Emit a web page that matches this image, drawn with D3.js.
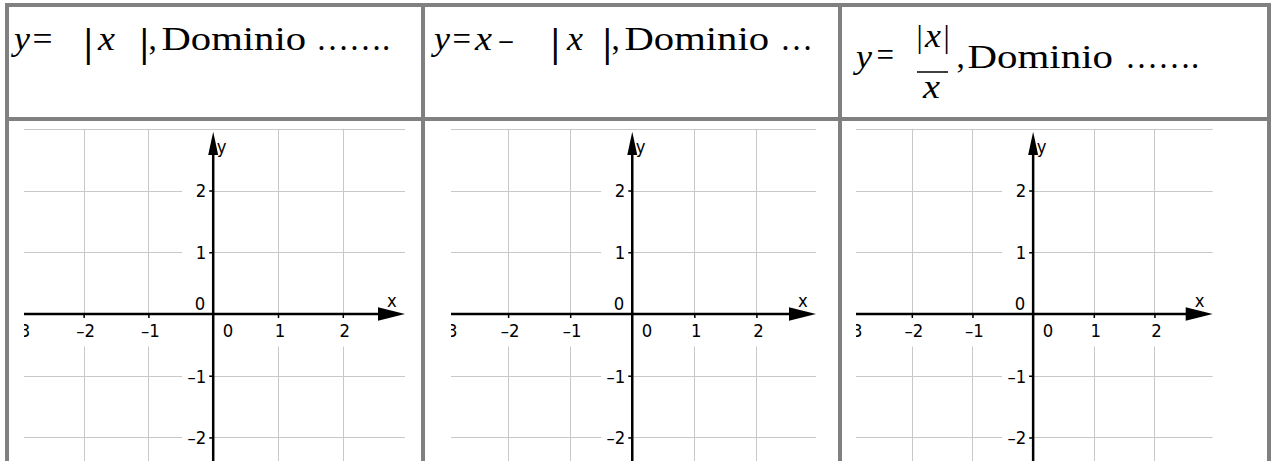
<!DOCTYPE html>
<html><head><meta charset="utf-8">
<script src="https://cdn.jsdelivr.net/npm/d3@7"></script>
<style>html,body{margin:0;padding:0;background:#fff;overflow:hidden}</style>
</head><body>
<svg id="c" width="1271" height="461"></svg>
<script>
// ---------- data ----------
const xTicks = [-3, -2, -1, 0, 1, 2];
const yTicks = [-2, -1, 0, 1, 2];
const xGrid = [-2, -1, 1, 2];
const yGrid = [3, 2, 1, -1, -2];
const xDomain = [-2.92, 2.96];
const yDomain = [3, -2.5];
const axisNames = ["x", "y"];
const domainWord = "Dominio";
const dotTexts = ["\u2026\u2026.", "\u2026", "\u2026\u2026."];

// ---------- layout / style ----------
const W = 1271, H = 461;
const borderColor = "#808080";
const gridColor = "#c8c8c8";
const serif = "Liberation Serif";
const sans = "DejaVu Sans";
const labelSize = 16.5;
const panels = [{x0: 24, x1: 405}, {x0: 451, x1: 816}, {x0: 856, x1: 1212.7}];
const yRange = [128.8, 468.3];

const svg = d3.select("#c");
const defs = svg.append("defs");
svg.append("rect").attr("width", W).attr("height", H).attr("fill", "#fff");

const fmt = d => d < 0 ? "\u2013" + Math.abs(d) : String(d);

panels.forEach((p, i) => {
  const x = d3.scaleLinear().domain(xDomain).range([p.x0, p.x1]);
  const y = d3.scaleLinear().domain(yDomain).range(yRange);
  defs.append("clipPath").attr("id", "clip" + i).append("rect")
    .attr("x", p.x0).attr("y", 122).attr("width", p.x1 - p.x0 + 0.5).attr("height", H);
  const g = svg.append("g").attr("clip-path", `url(#clip${i})`);

  // grid
  g.selectAll(".gv").data(xGrid).join("line")
    .attr("x1", d => Math.round(x(d)) + 0.5).attr("x2", d => Math.round(x(d)) + 0.5)
    .attr("y1", y(3)).attr("y2", H + 10)
    .attr("stroke", gridColor).attr("stroke-width", 1);
  g.selectAll(".gh").data(yGrid).join("line")
    .attr("y1", d => Math.round(y(d)) + 0.5).attr("y2", d => Math.round(y(d)) + 0.5)
    .attr("x1", p.x0).attr("x2", p.x1)
    .attr("stroke", gridColor).attr("stroke-width", 1);

  const y0 = y(0), x0 = x(0);

  // x axis ticks + labels
  const gx = g.append("g").attr("transform", `translate(0,${y0})`)
    .call(d3.axisBottom(x).tickValues(xTicks).tickSize(4).tickPadding(0).tickFormat(fmt));
  gx.select(".domain").remove();
  gx.attr("font-size", null).attr("font-family", null);
  gx.selectAll(".tick").filter(d => d !== 0 && d !== -3)
    .insert("rect", "line").attr("x", -12).attr("y", 3.5).attr("width", 25).attr("height", 29).attr("fill", "#fff");
  gx.selectAll(".tick").filter(d => d === 0).select("line").remove();
  gx.selectAll(".tick line").attr("stroke", "#000").attr("stroke-width", 1.5);
  gx.selectAll(".tick text")
    .attr("y", null).attr("dy", null).attr("fill", "#000")
    .attr("font-family", sans).attr("font-size", labelSize)
    .attr("text-anchor", d => d === 0 ? "start" : "middle")
    .attr("transform", d => d === 0 ? "translate(9,23.5) scale(1,1.05)" : "translate(1.5,23.5) scale(1,1.05)");

  // y axis ticks + labels
  const gy = g.append("g").attr("transform", `translate(${x0},0)`)
    .call(d3.axisLeft(y).tickValues(yTicks).tickSize(4).tickPadding(0).tickFormat(fmt));
  gy.select(".domain").remove();
  gy.attr("font-size", null).attr("font-family", null);
  gy.selectAll(".tick").filter(d => d !== 0)
    .insert("rect", "line").attr("x", -31).attr("y", -9).attr("width", 28).attr("height", 18).attr("fill", "#fff");
  gy.selectAll(".tick").filter(d => d === 0).select("line").remove();
  gy.selectAll(".tick line").attr("stroke", "#000").attr("stroke-width", 1.5);
  gy.selectAll(".tick text")
    .attr("x", null).attr("dy", null).attr("fill", "#000")
    .attr("font-family", sans).attr("font-size", labelSize)
    .attr("text-anchor", "end")
    .attr("transform", d => d === 0 ? "translate(-8,-4) scale(1,1.05)" : "translate(-7,6.3) scale(1,1.05)");

  // axis lines
  g.append("line").attr("x1", p.x0).attr("x2", p.x1 - 20).attr("y1", y0).attr("y2", y0)
    .attr("stroke", "#000").attr("stroke-width", 2.5);
  g.append("line").attr("x1", x0).attr("x2", x0).attr("y1", H + 10).attr("y2", 150)
    .attr("stroke", "#000").attr("stroke-width", 2.5);
  // arrows
  g.append("path").attr("d", `M${p.x1},${y0}L${p.x1 - 27},${y0 - 6.7}L${p.x1 - 27},${y0 + 6.7}Z`).attr("fill", "#000");
  g.append("path").attr("d", `M${x0},131.7L${x0 - 5},155L${x0 + 5},155Z`).attr("fill", "#000");
  // axis names
  g.append("text").text(axisNames[0]).attr("font-family", sans).attr("font-size", labelSize)
    .attr("text-anchor", "middle").attr("transform", `translate(${p.x1 - 13},307) scale(1,1.05)`);
  g.append("text").text(axisNames[1]).attr("font-family", sans).attr("font-size", labelSize)
    .attr("transform", `translate(${x0 + 3.5},153) scale(1,1.1)`);
});

// ---------- header formulas ----------
const header = svg.append("g").attr("font-family", serif).attr("font-size", 33).attr("fill", "#000");
const pieces = [
  // column 1: y = |x|, Dominio …….
  {t: "y", x: 14, y: 50, it: 1, len: 16},
  {t: "=", x: 32.5, y: 50, len: 20},
  {t: "|", x: 84, y: 56, fs: 39, bold: 1},
  {t: "x", x: 98, y: 50, it: 1, len: 17},
  {t: "|", x: 140, y: 56, fs: 39, bold: 1},
  {t: ",", x: 148.5, y: 50},
  {t: domainWord, x: 161.5, y: 50, len: 144.5},
  {t: dotTexts[0], x: 316, y: 50},
  // column 2: y = x − |x|, Dominio …
  {t: "y", x: 434, y: 50, it: 1, len: 16},
  {t: "=", x: 452.5, y: 50, len: 18.5},
  {t: "x", x: 475, y: 50, it: 1, len: 17},
  {t: "\u2013", x: 499.5, y: 50, len: 13},
  {t: "|", x: 551, y: 56, fs: 39, bold: 1},
  {t: "x", x: 567, y: 50, it: 1, len: 16},
  {t: "|", x: 603, y: 56, fs: 39, bold: 1},
  {t: ",", x: 611.5, y: 50},
  {t: domainWord, x: 624.5, y: 50, len: 144.5},
  {t: dotTexts[1], x: 780, y: 50},
  // column 3: y = |x| / x, Dominio …….
  {t: "y", x: 856, y: 68, it: 1, len: 16},
  {t: "=", x: 876.5, y: 66, len: 17.5},
  {t: "|", x: 916.5, y: 46.5, fs: 31},
  {t: "x", x: 925, y: 47, it: 1, len: 16},
  {t: "|", x: 943.5, y: 46.5, fs: 31},
  {t: "x", x: 923, y: 98, it: 1, len: 17},
  {t: ",", x: 956.5, y: 68},
  {t: domainWord, x: 967.5, y: 68, len: 145.5},
  {t: dotTexts[2], x: 1125, y: 68}
];
header.selectAll("text").data(pieces).join("text")
  .text(d => d.t).attr("x", d => d.x).attr("y", d => d.y)
  .attr("font-style", d => d.it ? "italic" : null)
  .attr("font-weight", d => d.bold ? "bold" : null)
  .attr("font-size", d => d.fs || null)
  .attr("textLength", d => d.len || null)
  .attr("lengthAdjust", d => d.len ? "spacingAndGlyphs" : null);
header.append("line").attr("x1", 917).attr("x2", 948).attr("y1", 72).attr("y2", 72)
  .attr("stroke", "#000").attr("stroke-width", 1.5);

// ---------- table borders ----------
const b = svg.append("g").attr("stroke", borderColor).attr("stroke-width", 4).attr("shape-rendering", "crispEdges");
b.append("line").attr("x1", 5).attr("x2", W + 2).attr("y1", 5).attr("y2", 5);
b.append("line").attr("x1", 5).attr("x2", W + 2).attr("y1", 119).attr("y2", 119);
[7, 423, 840, 1269].forEach(xx => b.append("line").attr("x1", xx).attr("x2", xx).attr("y1", 3).attr("y2", H + 5));
</script>
</body></html>
